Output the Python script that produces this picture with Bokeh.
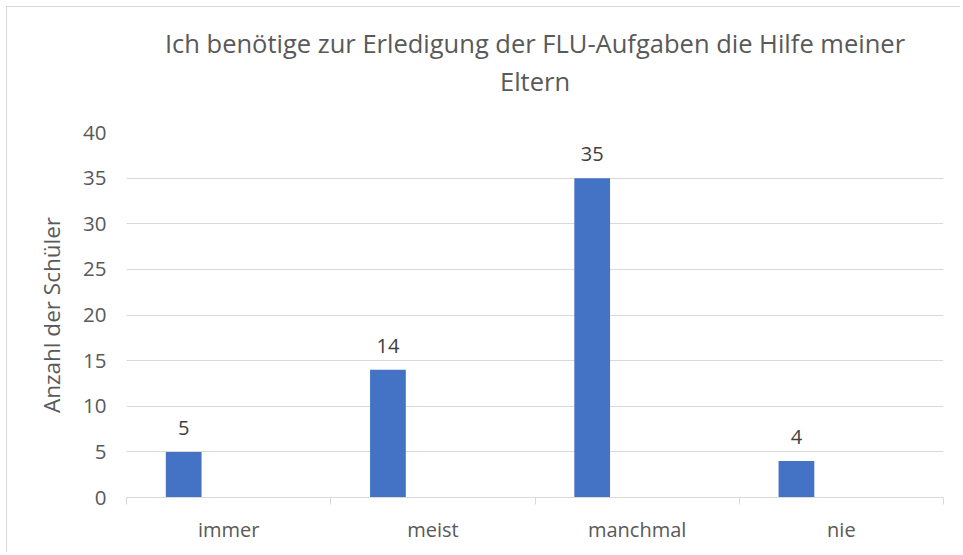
from bokeh.plotting import figure
from bokeh.models import (ColumnDataSource, Range1d, LinearAxis, FixedTicker, LabelSet, Title,
                          SingleIntervalTicker)
from bokeh.core.properties import value
from bokeh.embed import file_html
from bokeh.resources import INLINE

categories = ["immer", "meist", "manchmal", "nie"]
values = [5, 14, 35, 4]
title_line1 = "Ich benötige zur Erledigung der FLU-Aufgaben die Hilfe meiner"
title_line2 = "Eltern"
y_label = "Anzahl der Schüler"

FONT = "Open Sans"
TXT = "#595959"
GRID = "#d9d9d9"
BAR = "#4472C4"

n = len(categories)
centers = [i + 0.5 for i in range(n)]
bar_x = [c - 0.22 for c in centers]

src = ColumnDataSource(dict(x=bar_x, val=values, lab=[str(v) for v in values]))

p = figure(x_range=Range1d(0, n), y_range=Range1d(0, 40),
           width=954, height=546, output_backend="svg", toolbar_location=None,
           x_axis_location=None, y_axis_location=None, title=None,
           min_border_left=119, min_border_right=18, min_border_top=125, min_border_bottom=56)
p.styles = {"border-left": "1px solid #d9d9d9", "border-top": "1px solid #d9d9d9",
            "margin-left": "6px", "margin-top": "6px"}
p.outline_line_color = None
p.background_fill_color = "white"
p.border_fill_color = "white"

# y axis
yax = LinearAxis(ticker=SingleIntervalTicker(interval=5))
yax.axis_line_color = None
yax.major_tick_line_color = None
yax.minor_tick_line_color = None
yax.major_tick_out = 0
yax.major_tick_in = 0
yax.major_label_standoff = 16
yax.major_label_text_font = FONT
yax.major_label_text_font_size = "20.5px"
yax.major_label_text_color = TXT
yax.axis_label = y_label
yax.axis_label_text_font = FONT
yax.axis_label_text_font_size = "22.5px"
yax.axis_label_text_font_style = "normal"
yax.axis_label_text_color = TXT
yax.axis_label_standoff = 13
p.add_layout(yax, "left")

# x axis: labels at category centers, ticks at category boundaries
xax = LinearAxis(ticker=FixedTicker(ticks=centers, minor_ticks=list(range(n + 1))))
xax.major_label_overrides = {c: cat for c, cat in zip(centers, categories)}
xax.axis_line_color = GRID
xax.major_tick_line_color = None
xax.major_tick_out = 0
xax.major_tick_in = 0
xax.minor_tick_line_color = GRID
xax.minor_tick_in = 0
xax.minor_tick_out = 7
xax.major_label_standoff = 11
xax.major_label_text_font = FONT
xax.major_label_text_font_size = "20px"
xax.major_label_text_color = TXT
p.add_layout(xax, "below")

p.xgrid.visible = False
p.ygrid.grid_line_color = GRID
p.ygrid.grid_line_width = 1
p.ygrid.ticker = SingleIntervalTicker(interval=5)

p.vbar(x="x", top="val", width=0.175, source=src, fill_color=BAR, line_color=None)

labels = LabelSet(x="x", y="val", text="lab", source=src,
                  text_align="center", text_baseline="alphabetic", y_offset=17,
                  text_font=value(FONT), text_font_size=value("20px"), text_color="#404040")
p.add_layout(labels)

spacer = Title(text=" ", align="center", text_font_size="1px", standoff=29)
t2 = Title(text=title_line2, align="center", text_font=FONT, text_font_size="25.5px",
           text_font_style="normal", text_color=TXT, standoff=5)
t1 = Title(text=title_line1, align="center", text_font=FONT, text_font_size="25.5px",
           text_font_style="normal", text_color=TXT, standoff=0)
p.add_layout(spacer, "above")
p.add_layout(t2, "above")
p.add_layout(t1, "above")

open("out.html", "w").write(file_html(p, INLINE))
